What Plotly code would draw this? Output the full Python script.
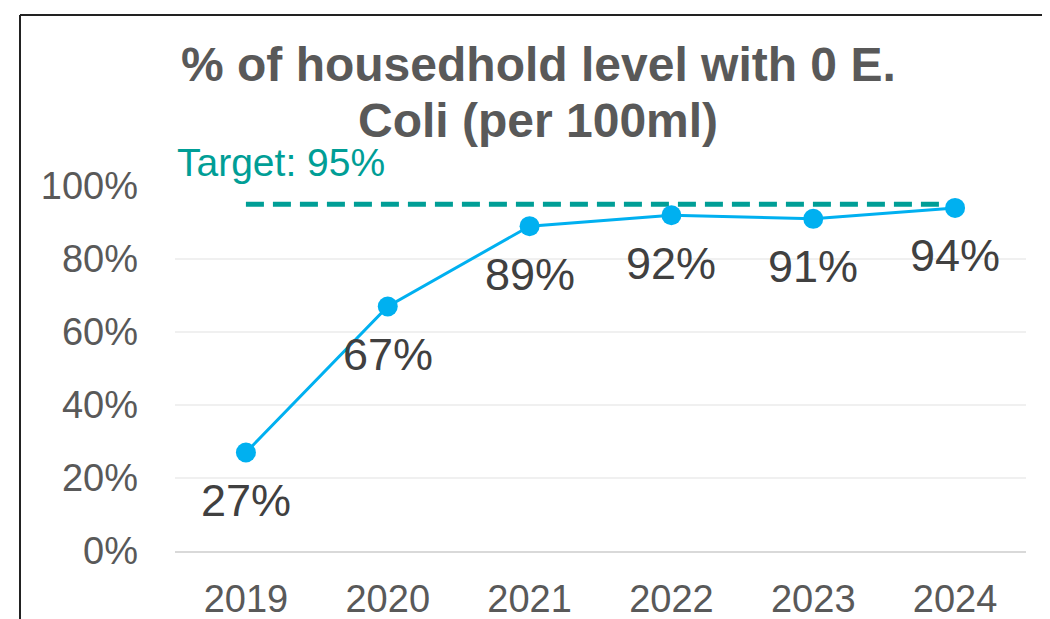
import plotly.graph_objects as go

years = ["2019", "2020", "2021", "2022", "2023", "2024"]
values = [0.27, 0.67, 0.89, 0.92, 0.91, 0.94]
target = [0.95, 0.95, 0.95, 0.95, 0.95, 0.95]
labels = ["27%", "67%", "89%", "92%", "91%", "94%"]
y_ticks = [0, 0.2, 0.4, 0.6, 0.8, 1.0]
y_tick_text = ["0%", "20%", "40%", "60%", "80%", "100%"]
title_lines = ["% of housedhold level with 0 E.", "Coli (per 100ml)"]
target_label = "Target: 95%"

OFF = 8  # page body margin
W, H = 1050 - OFF, 619 - OFF
L, R, T, B = 175 - OFF, 24, 186 - OFF, 68
PW, PH = W - L - R, H - T - B

def px(x):
    return (x - OFF - L) / PW

def py(y):
    return (H - B - (y - OFF)) / PH

FONT = "Liberation Sans, Arial, sans-serif"

fig = go.Figure()
fig.add_trace(go.Scatter(
    x=years, y=target, mode="lines",
    line=dict(color="#009E96", width=5, dash="18px,9px"),
    hoverinfo="skip", showlegend=False))
fig.add_trace(go.Scatter(
    x=years, y=values, mode="lines+markers",
    line=dict(color="#00B0F0", width=3),
    marker=dict(color="#00B0F0", size=20),
    showlegend=False))

for i, (y, t) in enumerate(zip(values, labels)):
    fig.add_annotation(x=i, y=y, xref="x", yref="y", text=t, showarrow=False, yshift=-48,
                       font=dict(family=FONT, size=45, color="#404040"))

fig.add_annotation(xref="paper", yref="paper", x=px(538), y=py(65), text="<b>" + title_lines[0] + "</b>",
                   showarrow=False, xanchor="center", yanchor="middle",
                   font=dict(family=FONT, size=48, color="#595959"))
fig.add_annotation(xref="paper", yref="paper", x=px(538), y=py(120), text="<b>" + title_lines[1] + "</b>",
                   showarrow=False, xanchor="center", yanchor="middle",
                   font=dict(family=FONT, size=48, color="#595959"))
fig.add_annotation(xref="paper", yref="paper", x=px(175), y=py(163), text=target_label,
                   showarrow=False, xanchor="left", yanchor="middle",
                   font=dict(family=FONT, size=39, color="#009E96"))

# outer frame (left and top edges)
fig.add_shape(type="line", xref="paper", yref="paper", x0=px(20), x1=px(20), y0=py(15), y1=py(640),
              line=dict(color="#222222", width=2))
fig.add_shape(type="line", xref="paper", yref="paper", x0=px(20), x1=px(1070), y0=py(15), y1=py(15),
              line=dict(color="#222222", width=2))

fig.update_xaxes(type="category", range=[-0.5, 5.5], showgrid=False, zeroline=False,
                 showline=True, linecolor="#D9D9D9", linewidth=1.5, automargin=False,
                 tickfont=dict(family=FONT, size=38, color="#595959"),
                 ticks="", ticklabelstandoff=14)
fig.update_yaxes(range=[0, 1.0], tickvals=y_ticks, ticktext=y_tick_text,
                 showgrid=True, gridcolor="#F0F0F0", gridwidth=1.5, zeroline=False,
                 showline=False, automargin=False,
                 tickfont=dict(family=FONT, size=38, color="#595959"),
                 ticks="", ticklabelstandoff=36)

fig.update_layout(width=W, height=H, margin=dict(l=L, r=R, t=T, b=B, autoexpand=False),
                  paper_bgcolor="white", plot_bgcolor="white", showlegend=False)

fig.write_html("out.html")
